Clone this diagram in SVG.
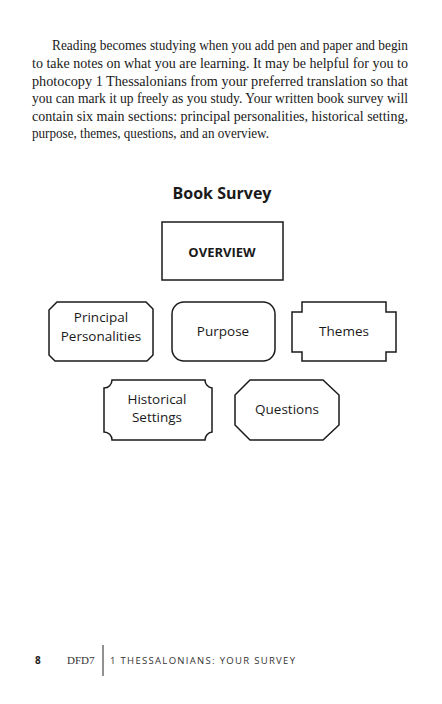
<svg xmlns="http://www.w3.org/2000/svg" width="442" height="704" viewBox="0 0 442 704">
<style>
.body{font-family:"Liberation Serif",serif;font-size:14.5px;fill:#1a1a1a}
.box{fill:#fff;stroke:#1a1a1a;stroke-width:1.5}
.lbl{font-family:"Open Sans","Liberation Sans",sans-serif;font-size:13.5px;fill:#1a1a1a;text-anchor:middle}
</style>
<rect width="442" height="704" fill="#fff"/>
<g id="paragraph">
<text class="body" x="52" y="50" textLength="356" lengthAdjust="spacingAndGlyphs">Reading becomes studying when you add pen and paper and begin</text>
<text class="body" x="32" y="68" textLength="376" lengthAdjust="spacingAndGlyphs">to take notes on what you are learning. It may be helpful for you to</text>
<text class="body" x="32" y="86" textLength="376" lengthAdjust="spacingAndGlyphs">photocopy 1 Thessalonians from your preferred translation so that</text>
<text class="body" x="32" y="103" textLength="376" lengthAdjust="spacingAndGlyphs">you can mark it up freely as you study. Your written book survey will</text>
<text class="body" x="32" y="121" textLength="376" lengthAdjust="spacingAndGlyphs">contain six main sections: principal personalities, historical setting,</text>
<text class="body" x="32" y="138" textLength="237" lengthAdjust="spacingAndGlyphs">purpose, themes, questions, and an overview.</text>
</g>
<text x="222" y="199" text-anchor="middle" font-family="'Open Sans','Liberation Sans',sans-serif" font-size="16" font-weight="bold" fill="#1a1a1a">Book Survey</text>
<g id="overview">
<rect class="box" x="162" y="222" width="121" height="58"/>
<text x="222" y="257" text-anchor="middle" font-family="'Open Sans','Liberation Sans',sans-serif" font-size="13" font-weight="bold" fill="#1a1a1a">OVERVIEW</text>
</g>
<g id="principal">
<path class="box" d="M57,302 H146 L153,309 V355 L147,361 H55 L49,355 V310 Z"/>
<text class="lbl" x="101" y="322">Principal</text>
<text class="lbl" x="101" y="341">Personalities</text>
</g>
<g id="purpose">
<rect class="box" x="172" y="302" width="103" height="59" rx="12"/>
<text class="lbl" x="223" y="336">Purpose</text>
</g>
<g id="themes">
<path class="box" d="M302,302 H386 V312 H396 V352 H386 V361 H302 V352 H292 V312 H302 Z"/>
<text class="lbl" x="344" y="336">Themes</text>
</g>
<g id="historical">
<path class="box" d="M112,380 H205 A8,8 0 0 0 212,388 V432 A8,8 0 0 0 205,440 H112 A8,8 0 0 0 104,432 V388 A8,8 0 0 0 112,380 Z"/>
<text class="lbl" x="157" y="404">Historical</text>
<text class="lbl" x="157" y="422">Settings</text>
</g>
<g id="questions">
<path class="box" d="M250,380 H323 L339,395 V425 L323,440 H250 L235,425 V395 Z"/>
<text class="lbl" x="287" y="414">Questions</text>
</g>
<g id="footer">
<text x="35" y="664" font-family="'Open Sans','Liberation Sans',sans-serif" font-size="10" font-weight="bold" fill="#1a1a1a">8</text>
<text x="67" y="664" font-family="'Liberation Serif',serif" font-size="11" fill="#333">DFD7</text>
<line x1="103" y1="645" x2="103" y2="676" stroke="#555" stroke-width="1.3"/>
<text x="110" y="664" font-family="'Open Sans','Liberation Sans',sans-serif" font-size="9.5" fill="#333" textLength="185" lengthAdjust="spacing">1 THESSALONIANS: YOUR SURVEY</text>
</g>
<g id="connectors"></g>
</svg>
